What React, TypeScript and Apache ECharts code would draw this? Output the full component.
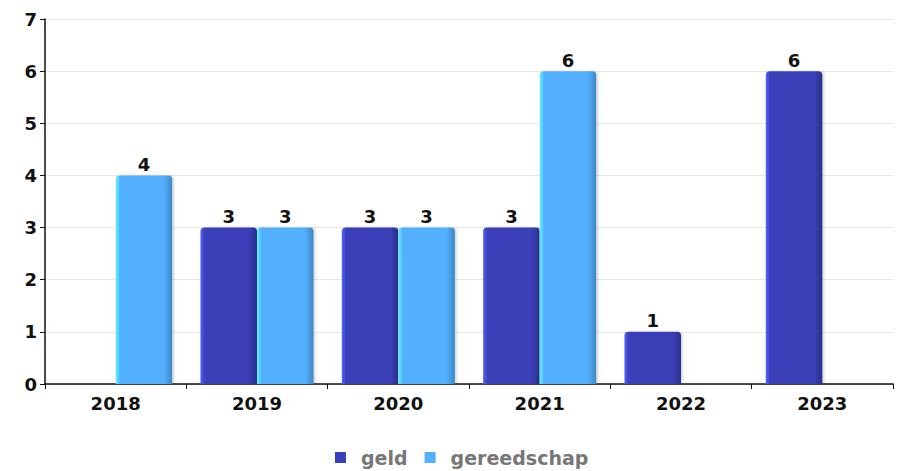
import React, { useEffect, useRef } from "react";
import * as echarts from "echarts";

const categories = ["2018", "2019", "2020", "2021", "2022", "2023"];
const geld: (number | null)[] = [null, 3, 3, 3, 1, 6];
const gereedschap: (number | null)[] = [4, 3, 3, 6, null, null];
const yTicks = [0, 1, 2, 3, 4, 5, 6, 7];

const FONT = "DejaVu Sans";
const FS = 18;

function grad(left: string, mid: string, right: string) {
  return new echarts.graphic.LinearGradient(0, 0, 1, 0, [
    { offset: 0, color: left },
    { offset: 0.08, color: mid },
    { offset: 0.85, color: mid },
    { offset: 1, color: right },
  ]);
}

export default function App() {
  const ref = useRef<HTMLDivElement>(null);
  useEffect(() => {
    if (!ref.current) return;
    const chart = echarts.init(ref.current, null, { renderer: "svg" });
    const label = {
      show: true,
      position: "top" as const,
      distance: 2,
      color: "#111",
      fontFamily: FONT,
      fontWeight: "bold" as const,
      fontSize: FS,
    };
    chart.setOption({
      animation: false,
      backgroundColor: "#fff",
      grid: { left: 45, right: 10, top: 19, bottom: 87, containLabel: false },
      legend: {
        top: 443,
        left: 330,
        itemWidth: 11,
        itemHeight: 11,
        itemGap: 17,
        icon: "rect",
        textStyle: {
          color: "#777",
          fontFamily: FONT,
          fontWeight: "bold",
          fontSize: FS + 1,
          padding: [0, 0, 0, 10],
        },
        data: [
          { name: "geld", itemStyle: { color: "#3a40b8" } },
          { name: "gereedschap", itemStyle: { color: "#52b0ff" } },
        ],
      },
      xAxis: {
        type: "category",
        data: categories,
        axisLine: { lineStyle: { color: "#111", width: 1.5 } },
        axisTick: { show: true, length: 5, lineStyle: { color: "#111" } },
        axisLabel: { color: "#111", fontFamily: FONT, fontWeight: "bold", fontSize: FS, margin: 10 },
      },
      yAxis: {
        type: "value",
        min: yTicks[0],
        max: yTicks[yTicks.length - 1],
        interval: 1,
        axisLine: { show: true, lineStyle: { color: "#111", width: 1.5 } },
        axisTick: { show: true, length: 5, lineStyle: { color: "#111" } },
        axisLabel: { color: "#111", fontFamily: FONT, fontWeight: "bold", fontSize: FS, margin: 8 },
        splitLine: { lineStyle: { color: "#e6e6e6" } },
      },
      series: [
        {
          name: "geld",
          type: "bar",
          data: geld,
          barGap: "0%",
          barCategoryGap: "20%",
          label,
          itemStyle: {
            color: grad("#5060ff", "#3a40b8", "#2a2f8a"),
            borderRadius: [4, 4, 0, 0],
            shadowColor: "rgba(0,0,0,0.15)",
            shadowOffsetX: 2,
            shadowBlur: 2,
          },
        },
        {
          name: "gereedschap",
          type: "bar",
          data: gereedschap,
          barGap: "0%",
          barCategoryGap: "20%",
          label,
          itemStyle: {
            color: grad("#66f4ff", "#52b0ff", "#3c86c4"),
            borderRadius: [4, 4, 0, 0],
            shadowColor: "rgba(0,0,0,0.15)",
            shadowOffsetX: 2,
            shadowBlur: 2,
          },
        },
      ],
    });
    return () => chart.dispose();
  }, []);
  return <div ref={ref} style={{ width: 903, height: 471, position: "absolute", left: 0, top: 0 }} />;
}
